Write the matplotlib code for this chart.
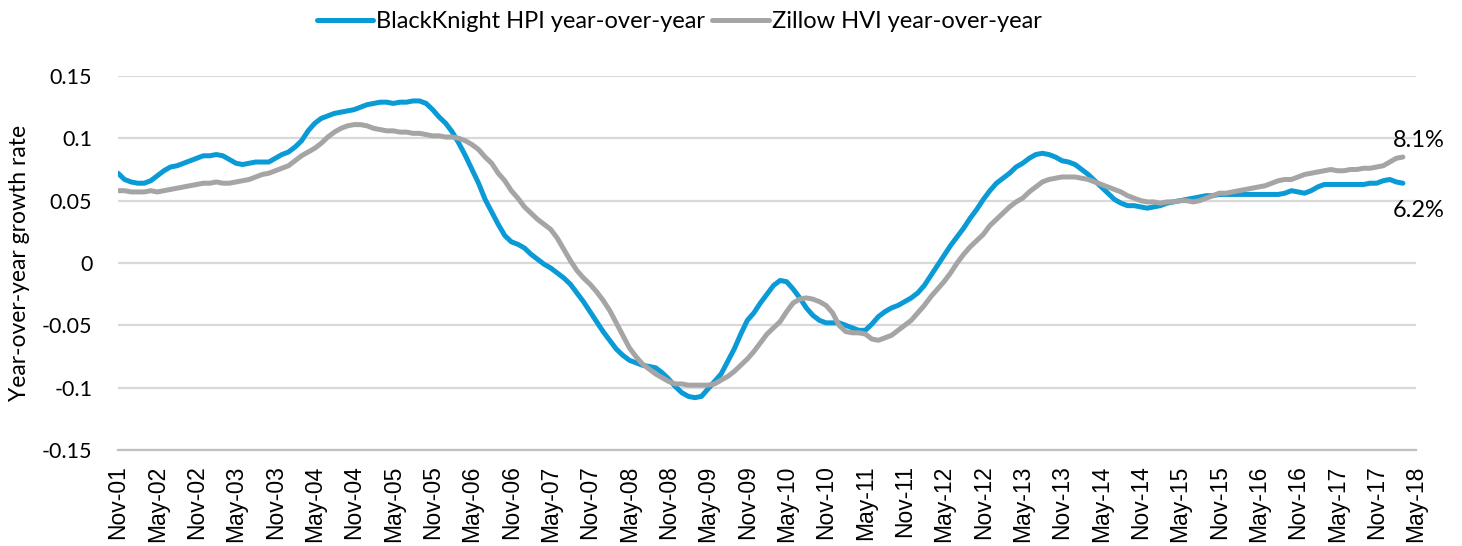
import numpy as np
import matplotlib
matplotlib.use("Agg")
import matplotlib.pyplot as plt

# Monthly year-over-year growth, starting Nov-01 (index 0) through Mar-18
blackknight_hpi = [
    0.072, 0.067, 0.065, 0.064, 0.064, 0.066, 0.070, 0.074, 0.077, 0.078,
    0.080, 0.082, 0.084, 0.086, 0.086, 0.087, 0.086, 0.083, 0.080, 0.079,
    0.080, 0.081, 0.081, 0.081, 0.084, 0.087, 0.089, 0.093, 0.098, 0.106,
    0.112, 0.116, 0.118, 0.120, 0.121, 0.122, 0.123, 0.125, 0.127, 0.128,
    0.129, 0.129, 0.128, 0.129, 0.129, 0.130, 0.130, 0.128, 0.123, 0.117,
    0.112, 0.105, 0.096, 0.086, 0.075, 0.064, 0.051, 0.041, 0.031, 0.022,
    0.017, 0.015, 0.012, 0.007, 0.003, -0.001, -0.004, -0.008, -0.012, -0.017,
    -0.024, -0.031, -0.039, -0.047, -0.055, -0.062, -0.069, -0.074, -0.078, -0.080,
    -0.082, -0.083, -0.084, -0.088, -0.093, -0.099, -0.104, -0.107, -0.108, -0.107,
    -0.101, -0.095, -0.089, -0.079, -0.069, -0.057, -0.046, -0.040, -0.032, -0.025,
    -0.018, -0.014, -0.015, -0.021, -0.028, -0.036, -0.042, -0.046, -0.048, -0.048,
    -0.048, -0.050, -0.052, -0.054, -0.054, -0.049, -0.043, -0.039, -0.036, -0.034,
    -0.031, -0.028, -0.024, -0.018, -0.010, -0.002, 0.006, 0.014, 0.021, 0.028,
    0.036, 0.043, 0.051, 0.058, 0.064, 0.068, 0.072, 0.077, 0.080, 0.084,
    0.087, 0.088, 0.087, 0.085, 0.082, 0.081, 0.079, 0.075, 0.071, 0.066,
    0.061, 0.056, 0.051, 0.048, 0.046, 0.046, 0.045, 0.044, 0.045, 0.046,
    0.048, 0.049, 0.050, 0.051, 0.052, 0.053, 0.054, 0.054, 0.055, 0.055,
    0.055, 0.055, 0.055, 0.055, 0.055, 0.055, 0.055, 0.055, 0.056, 0.058,
    0.057, 0.056, 0.058, 0.061, 0.063, 0.063, 0.063, 0.063, 0.063, 0.063,
    0.063, 0.064, 0.064, 0.066, 0.067, 0.065, 0.064,
]

zillow_hvi = [
    0.058, 0.058, 0.057, 0.057, 0.057, 0.058, 0.057, 0.058, 0.059, 0.060,
    0.061, 0.062, 0.063, 0.064, 0.064, 0.065, 0.064, 0.064, 0.065, 0.066,
    0.067, 0.069, 0.071, 0.072, 0.074, 0.076, 0.078, 0.082, 0.086, 0.089,
    0.092, 0.096, 0.101, 0.105, 0.108, 0.110, 0.111, 0.111, 0.110, 0.108,
    0.107, 0.106, 0.106, 0.105, 0.105, 0.104, 0.104, 0.103, 0.102, 0.102,
    0.101, 0.101, 0.100, 0.098, 0.095, 0.091, 0.085, 0.080, 0.072, 0.066,
    0.058, 0.052, 0.045, 0.040, 0.035, 0.031, 0.027, 0.020, 0.011, 0.002,
    -0.006, -0.012, -0.017, -0.023, -0.030, -0.038, -0.048, -0.058, -0.068, -0.075,
    -0.081, -0.085, -0.089, -0.092, -0.095, -0.097, -0.097, -0.098, -0.098, -0.098,
    -0.098, -0.097, -0.094, -0.091, -0.087, -0.082, -0.077, -0.071, -0.064, -0.057,
    -0.052, -0.047, -0.039, -0.032, -0.029, -0.028, -0.029, -0.031, -0.034, -0.040,
    -0.050, -0.055, -0.056, -0.056, -0.057, -0.061, -0.062, -0.060, -0.058, -0.054,
    -0.050, -0.046, -0.040, -0.034, -0.027, -0.021, -0.015, -0.008, 0.000, 0.007,
    0.013, 0.018, 0.023, 0.030, 0.035, 0.040, 0.045, 0.049, 0.052, 0.057,
    0.061, 0.065, 0.067, 0.068, 0.069, 0.069, 0.069, 0.068, 0.067, 0.065,
    0.063, 0.061, 0.059, 0.057, 0.054, 0.052, 0.050, 0.049, 0.049, 0.048,
    0.049, 0.049, 0.050, 0.050, 0.049, 0.050, 0.052, 0.054, 0.056, 0.056,
    0.057, 0.058, 0.059, 0.060, 0.061, 0.062, 0.064, 0.066, 0.067, 0.067,
    0.069, 0.071, 0.072, 0.073, 0.074, 0.075, 0.074, 0.074, 0.075, 0.075,
    0.076, 0.076, 0.077, 0.078, 0.081, 0.084, 0.085,
]

tick_labels = [
    "Nov-01", "May-02", "Nov-02", "May-03", "Nov-03", "May-04", "Nov-04",
    "May-05", "Nov-05", "May-06", "Nov-06", "May-07", "Nov-07", "May-08",
    "Nov-08", "May-09", "Nov-09", "May-10", "Nov-10", "May-11", "Nov-11",
    "May-12", "Nov-12", "May-13", "Nov-13", "May-14", "Nov-14", "May-15",
    "Nov-15", "May-16", "Nov-16", "May-17", "Nov-17", "May-18",
]
y_ticks = [-0.15, -0.10, -0.05, 0.0, 0.05, 0.10, 0.15]
y_tick_labels = ["-0.15", "-0.1", "-0.05", "0", "0.05", "0.1", "0.15"]
series_names = ["BlackKnight HPI year-over-year", "Zillow HVI year-over-year"]
end_labels = ["8.1%", "6.2%"]

BLUE = "#0a9ad6"
GRAY = "#a5a5a5"
FONT = ["Lato", "DejaVu Sans"]

fig = plt.figure(figsize=(14.62, 5.46), dpi=100)
W, H = 1462, 546
ax = fig.add_axes([118 / W, 1 - 450 / H, (1416 - 118) / W, (450 - 76) / H])

months_bk = np.arange(len(blackknight_hpi))
months_z = np.arange(len(zillow_hvi))
lw = 3.6
l1, = ax.plot(months_bk, blackknight_hpi, color=BLUE, lw=lw,
              solid_capstyle="round", solid_joinstyle="round", zorder=3)
l2, = ax.plot(months_z, zillow_hvi, color=GRAY, lw=lw,
              solid_capstyle="round", solid_joinstyle="round", zorder=3)

ax.set_xlim(0, 6 * (len(tick_labels) - 1))
ax.set_ylim(-0.15, 0.15)
ax.set_xticks(np.arange(len(tick_labels)) * 6)
ax.set_xticklabels(tick_labels, rotation=90, fontsize=16.5,
                   family=["Liberation Sans", "DejaVu Sans"], color="#000000")
ax.set_yticks(y_ticks)
ax.set_yticklabels(y_tick_labels, fontsize=15.5, family=FONT, color="#000000")
ax.tick_params(axis="both", length=0)
ax.tick_params(axis="x", pad=11)
ax.tick_params(axis="y", pad=18.5)

ax.grid(axis="y", color="#d9d9d9", lw=1.6, zorder=0)
ax.set_axisbelow(True)
for s in ["top", "right", "left"]:
    ax.spines[s].set_visible(False)
ax.spines["bottom"].set_color("#bfbfbf")
ax.spines["bottom"].set_linewidth(1.6)
ax.spines["bottom"].set_zorder(1)

ax.set_ylabel("Year-over-year growth rate", fontsize=16.5, family=FONT)
ax.yaxis.set_label_coords((20 - 118) / (1416 - 118), 0.5)
ax.yaxis.label.set_va("center")

ax.text(194.5, 0.098, end_labels[0], fontsize=17, family=FONT,
        ha="left", va="center", clip_on=False)
ax.text(194.5, 0.042, end_labels[1], fontsize=17, family=FONT,
        ha="left", va="center", clip_on=False)

fig.legend([l1, l2], series_names, loc="center",
           bbox_to_anchor=(679 / W, 1 - 22 / H),
           ncol=2, frameon=False, prop={"family": FONT, "size": 17},
           handlelength=2.4, handletextpad=0.12, columnspacing=0.3)

fig.savefig("out.png", dpi=100)
